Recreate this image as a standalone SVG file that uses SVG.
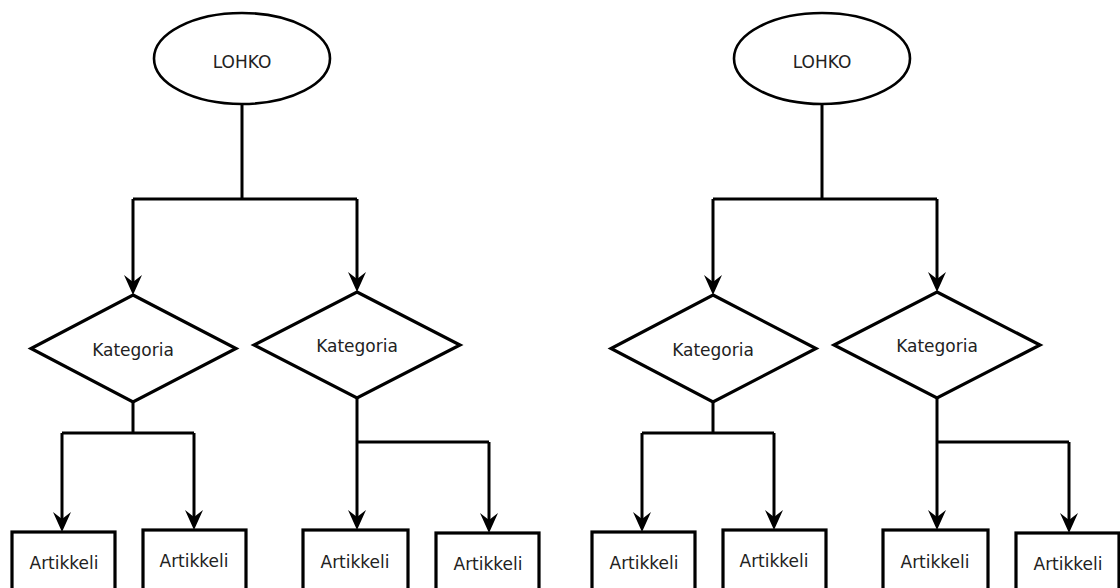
<svg xmlns="http://www.w3.org/2000/svg" width="1120" height="588" viewBox="0 0 1120 588">
<style>
.shape{fill:#fff;stroke:#000;stroke-width:3.2}
.ell{fill:#fff;stroke:#000;stroke-width:2.6}
.lbl{font-family:"DejaVu Sans",sans-serif;font-size:17px;fill:#222;text-anchor:middle}
.con{fill:none;stroke:#000;stroke-width:3}
</style>
<defs>
<marker id="arr" markerUnits="userSpaceOnUse" viewBox="0 0 20 18" refX="13" refY="9" markerWidth="20" markerHeight="18" orient="auto">
<path d="M0,0 L20,9 L0,18 L7,9 z" fill="#000"/>
</marker>
</defs>
<rect width="1120" height="588" fill="#fff"/>
<g id="connectors">
<path class="con" d="M242,104 V199 M133,199 H357"/>
<path class="con" d="M133,199 V288" marker-end="url(#arr)"/>
<path class="con" d="M357,199 V285" marker-end="url(#arr)"/>
<path class="con" d="M133,402 V433 M62,433 H194"/>
<path class="con" d="M62,433 V525" marker-end="url(#arr)"/>
<path class="con" d="M194,433 V523" marker-end="url(#arr)"/>
<path class="con" d="M357,398 V523" marker-end="url(#arr)"/>
<path class="con" d="M357,442 H489"/>
<path class="con" d="M489,442 V526" marker-end="url(#arr)"/>
<path class="con" d="M822,104 V199 M713,199 H937"/>
<path class="con" d="M713,199 V288" marker-end="url(#arr)"/>
<path class="con" d="M937,199 V285" marker-end="url(#arr)"/>
<path class="con" d="M713,402 V433 M642,433 H774"/>
<path class="con" d="M642,433 V525" marker-end="url(#arr)"/>
<path class="con" d="M774,433 V523" marker-end="url(#arr)"/>
<path class="con" d="M937,398 V523" marker-end="url(#arr)"/>
<path class="con" d="M937,442 H1069"/>
<path class="con" d="M1069,442 V526" marker-end="url(#arr)"/>
</g>
<g id="lohko1"><ellipse class="ell" cx="242" cy="58.5" rx="88" ry="45.5"/><text class="lbl" x="242" y="68">LOHKO</text></g>
<g id="kat1"><polygon class="shape" points="133,295 236,348.5 133,402 31,348.5"/><text class="lbl" x="133" y="356">Kategoria</text></g>
<g id="kat2"><polygon class="shape" points="357,292 460,345 357,398 254,345"/><text class="lbl" x="357" y="352">Kategoria</text></g>
<g id="art1"><rect class="shape" x="12" y="532" width="103" height="60"/><text class="lbl" x="64" y="569">Artikkeli</text></g>
<g id="art2"><rect class="shape" x="143" y="530" width="103" height="62"/><text class="lbl" x="194" y="567">Artikkeli</text></g>
<g id="art3"><rect class="shape" x="303" y="530" width="105" height="62"/><text class="lbl" x="355" y="568">Artikkeli</text></g>
<g id="art4"><rect class="shape" x="436" y="533" width="103" height="59"/><text class="lbl" x="488" y="570">Artikkeli</text></g>
<g id="lohko2"><ellipse class="ell" cx="822" cy="58.5" rx="88" ry="45.5"/><text class="lbl" x="822" y="68">LOHKO</text></g>
<g id="kat3"><polygon class="shape" points="713,295 816,348.5 713,402 611,348.5"/><text class="lbl" x="713" y="356">Kategoria</text></g>
<g id="kat4"><polygon class="shape" points="937,292 1040,345 937,398 834,345"/><text class="lbl" x="937" y="352">Kategoria</text></g>
<g id="art5"><rect class="shape" x="592" y="532" width="103" height="60"/><text class="lbl" x="644" y="569">Artikkeli</text></g>
<g id="art6"><rect class="shape" x="723" y="530" width="103" height="62"/><text class="lbl" x="774" y="567">Artikkeli</text></g>
<g id="art7"><rect class="shape" x="883" y="530" width="105" height="62"/><text class="lbl" x="935" y="568">Artikkeli</text></g>
<g id="art8"><rect class="shape" x="1016" y="533" width="103" height="59"/><text class="lbl" x="1068" y="570">Artikkeli</text></g>
</svg>
